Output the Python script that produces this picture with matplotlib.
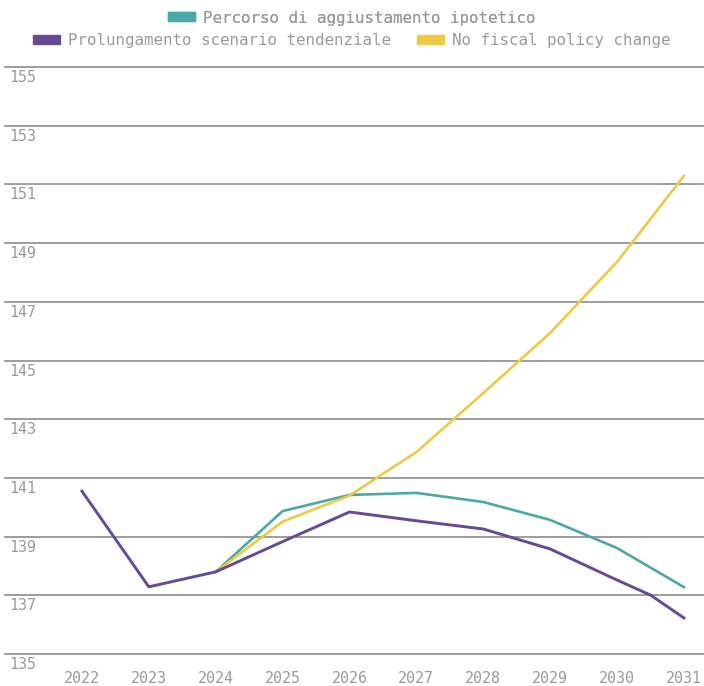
import matplotlib
matplotlib.use("Agg")
import matplotlib.pyplot as plt
import matplotlib.transforms as mtrans
from matplotlib.patches import Patch

years = [2022, 2023, 2024, 2025, 2026, 2027, 2028, 2029, 2030, 2031]
years_purple = [2022, 2023, 2024, 2025, 2026, 2027, 2028, 2029, 2030, 2030.5, 2031]
purple = [140.55, 137.29, 137.80, 138.83, 139.84, 139.54, 139.26, 138.58, 137.52, 137.01, 136.23]
years_proj = [2024, 2025, 2026, 2027, 2028, 2029, 2030, 2031]
teal = [137.80, 139.87, 140.42, 140.49, 140.18, 139.57, 138.61, 137.28]
yellow = [137.80, 139.51, 140.40, 141.88, 143.89, 145.94, 148.36, 151.29]

names = ["Percorso di aggiustamento ipotetico",
         "Prolungamento scenario tendenziale",
         "No fiscal policy change"]
c_teal = "#4ba8a5"
c_purple = "#664b94"
c_yellow = "#ecca45"
grey = "#9a9a9a"

plt.rcParams['font.family'] = ['DejaVu Sans Mono']

fig = plt.figure(figsize=(7.04, 6.86), dpi=100)
ax = fig.add_axes([0.0071, 0.0466, 0.9929, 0.8557])

ax.plot(years_proj, teal, color=c_teal, lw=1.9)
ax.plot(years_proj, yellow, color=c_yellow, lw=1.9)
ax.plot(years_purple, purple, color=c_purple, lw=2.1)

ax.set_ylim(135, 155)
ax.set_xlim(2020.85, 2031.3)
ax.set_yticks(range(135, 156, 2))
ax.set_xticks(years)
ax.grid(axis='y', color='#8c8c8c', lw=1.2)
for gl in ax.get_ygridlines():
    gl.set_clip_on(False)
ax.set_axisbelow(True)
for s in ax.spines.values():
    s.set_visible(False)

ax.tick_params(axis='y', length=0, pad=-3, labelsize=10.8, labelcolor=grey)
ax.tick_params(axis='x', length=0, pad=12, labelsize=10.8, labelcolor=grey)
shift = mtrans.ScaledTranslation(0, -3 / 100, fig.dpi_scale_trans)
for lab in ax.get_yticklabels():
    lab.set_ha('left')
    lab.set_va('top')
    lab.set_transform(lab.get_transform() + shift)

h = [Patch(color=c) for c in (c_teal, c_purple, c_yellow)]
leg1 = fig.legend([h[0]], [names[0]], loc='center', bbox_to_anchor=(0.5, 1 - 18 / 686),
                  frameon=False, fontsize=11.4, labelcolor=grey,
                  handlelength=1.7, handleheight=0.5, handletextpad=0.5)
leg2 = fig.legend(h[1:], names[1:], loc='center', bbox_to_anchor=(0.5, 1 - 41 / 686),
                  ncol=2, frameon=False, fontsize=11.4, labelcolor=grey,
                  handlelength=1.7, handleheight=0.5, handletextpad=0.5, columnspacing=1.65)
fig.add_artist(leg1)

plt.savefig("out.png", dpi=100)
